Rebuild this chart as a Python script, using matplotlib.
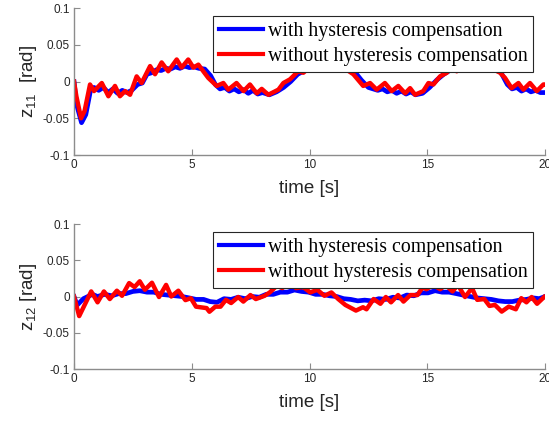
import matplotlib
matplotlib.use("Agg")
import matplotlib.pyplot as plt

plt.rcParams['font.family'] = ['Liberation Sans', 'DejaVu Sans']
plt.rcParams['mathtext.fontset'] = 'custom'
plt.rcParams['mathtext.rm'] = 'Liberation Sans'
plt.rcParams['mathtext.it'] = 'Liberation Sans'

# ---- data: z11 (top) ----
t11_with = [0, 0.1, 0.32, 0.5, 0.7, 0.85, 1.05, 1.25, 1.45, 1.65, 1.85, 2.05, 2.25, 2.45, 2.7, 2.9,
            3.1, 3.3, 3.5, 3.7, 3.9, 4.1, 4.3, 4.5, 4.7, 4.9, 5.1, 5.3, 5.55, 5.8, 6.0, 6.2, 6.4,
            6.6, 6.8, 7.0, 7.2, 7.4, 7.6, 7.8, 8.0, 8.3, 8.6, 8.9, 9.2, 9.5, 9.8, 10.1, 10.4, 10.7,
            11.0, 11.3, 11.6, 11.9, 12.2, 12.5, 12.7, 12.9, 13.1, 13.3, 13.5, 13.7, 13.9, 14.1,
            14.3, 14.5, 14.8, 15.1, 15.4, 15.7, 16.0, 16.3, 16.6, 16.9, 17.2, 17.5, 17.8, 18.1,
            18.4, 18.6, 18.8, 19.0, 19.2, 19.4, 19.6, 19.8, 20.0]
z11_with = [0, -0.03, -0.056, -0.045, -0.012, -0.008, -0.012, -0.008, -0.015, -0.010, -0.016,
            -0.012, -0.015, -0.012, -0.004, -0.002, 0.010, 0.012, 0.016, 0.015, 0.018, 0.017,
            0.020, 0.018, 0.021, 0.019, 0.020, 0.018, 0.017, 0.008, -0.004, -0.010, -0.008,
            -0.013, -0.010, -0.014, -0.011, -0.016, -0.012, -0.017, -0.015, -0.018, -0.014,
            -0.008, 0.000, 0.010, 0.015, 0.018, 0.019, 0.018, 0.020, 0.019, 0.018, 0.014, 0.002,
            -0.008, -0.010, -0.012, -0.010, -0.014, -0.012, -0.016, -0.013, -0.017, -0.014,
            -0.018, -0.016, -0.008, 0.002, 0.010, 0.016, 0.018, 0.019, 0.020, 0.019, 0.020,
            0.019, 0.014, -0.004, -0.010, -0.008, -0.013, -0.010, -0.014, -0.012, -0.015, -0.015]

t11_without = [0, 0.1, 0.3, 0.45, 0.68, 0.85, 1.18, 1.46, 1.74, 1.95, 2.17, 2.38, 2.66, 2.87, 3.23,
               3.44, 3.72, 4.0, 4.36, 4.57, 4.85, 5.07, 5.28, 5.7, 6.06, 6.34, 6.55, 6.9, 7.2, 7.47,
               7.76, 7.97, 8.25, 8.68, 8.89, 9.17, 9.52, 9.74, 9.95, 10.2, 10.45, 10.73, 11.0,
               11.44, 11.86, 12.28, 12.57, 12.85, 13.2, 13.49, 13.77, 14.06, 14.27, 14.48, 14.83,
               15.05, 15.26, 15.54, 15.83, 16.04, 16.25, 16.53, 16.82, 17.24, 17.66, 18.09, 18.3,
               18.58, 18.87, 19.08, 19.36, 19.65, 19.93, 20.0]
z11_without = [0, -0.02, -0.050, -0.040, -0.004, -0.013, -0.002, -0.020, -0.006, -0.020, -0.013,
               -0.018, 0.007, -0.002, 0.021, 0.010, 0.026, 0.014, 0.030, 0.019, 0.030, 0.019,
               0.023, 0.005, -0.006, -0.002, -0.011, -0.002, -0.013, -0.004, -0.016, -0.010,
               -0.018, -0.011, -0.002, 0.003, 0.014, 0.012, 0.018, 0.016, 0.019, 0.016, 0.021,
               0.019, 0.010, -0.006, -0.002, -0.011, -0.002, -0.013, -0.006, -0.016, -0.009,
               -0.018, -0.013, -0.002, -0.004, 0.007, 0.012, 0.021, 0.014, 0.021, 0.016, 0.021,
               0.019, 0.012, 0.005, -0.009, -0.002, -0.011, -0.002, -0.013, -0.004, -0.004]

# ---- data: z12 (bottom) ----
t12_with = [0, 0.13, 0.4, 0.78, 1.0, 1.3, 1.6, 1.9, 2.2, 2.5, 2.79, 3.1, 3.39, 3.7, 3.99, 4.3,
            4.58, 4.9, 5.18, 5.5, 5.78, 6.07, 6.37, 6.67, 6.97, 7.27, 7.57, 7.87, 8.16, 8.46,
            8.76, 9.06, 9.36, 9.66, 9.96, 10.26, 10.55, 10.85, 11.15, 11.45, 11.75, 12.05, 12.34,
            12.64, 12.94, 13.24, 13.54, 13.84, 14.13, 14.43, 14.73, 15.03, 15.33, 15.63, 15.93,
            16.23, 16.52, 16.82, 17.12, 17.42, 17.72, 18.02, 18.31, 18.61, 18.91, 19.21, 19.51,
            19.75, 20.0]
z12_with = [0, -0.012, -0.003, 0.003, 0.0, 0.003, 0.001, 0.004, 0.004, 0.007, 0.008, 0.006, 0.006,
            0.003, 0.002, 0.001, 0.0, -0.002, -0.004, -0.004, -0.007, -0.008, -0.003, -0.004,
            -0.001, -0.003, 0.0, -0.001, 0.003, 0.003, 0.006, 0.006, 0.009, 0.007, 0.006, 0.003,
            0.003, 0.001, 0.0, -0.003, -0.004, -0.006, -0.005, -0.006, -0.003, -0.004, -0.001,
            -0.002, 0.002, 0.001, 0.005, 0.005, 0.008, 0.006, 0.006, 0.004, 0.002, 0.0, -0.002,
            -0.003, -0.004, -0.006, -0.007, -0.007, -0.005, -0.004, -0.002, -0.003, 0.0]

t12_without = [0, 0.22, 0.73, 1.0, 1.27, 1.52, 1.82, 2.04, 2.34, 2.57, 2.79, 3.01, 3.31, 3.61, 3.91,
               4.13, 4.43, 4.73, 4.96, 5.18, 5.63, 5.75, 6.0, 6.22, 6.45, 6.67, 6.97, 7.19, 7.49,
               7.72, 8.09, 8.31, 8.61, 8.84, 9.13, 9.43, 9.73, 10.03, 10.33, 10.63, 10.93, 11.22,
               11.52, 11.97, 12.27, 12.42, 12.72, 13.01, 13.24, 13.46, 13.76, 13.99, 14.28, 14.58,
               14.81, 14.96, 15.25, 15.55, 15.78, 16.07, 16.3, 16.6, 16.9, 17.12, 17.42, 17.64,
               17.87, 18.16, 18.46, 18.76, 18.99, 19.21, 19.43, 19.66, 19.96]
z12_without = [0, -0.027, 0.007, -0.008, 0.007, -0.0035, 0.008, 0.001, 0.0185, 0.013, 0.021, 0.0093,
               0.019, -0.0007, 0.016, 0.0, 0.008, -0.005, -0.0023, -0.014, -0.016, -0.021, -0.014,
               -0.014, -0.0046, -0.009, -0.0007, -0.007, 0.002, -0.0035, 0.001, 0.0056, 0.0148,
               0.0116, 0.0185, 0.0116, 0.013, 0.0056, 0.0093, 0.001, 0.0056, -0.0035, -0.0116,
               -0.0194, -0.0148, -0.0176, -0.0035, -0.010, -0.0007, -0.008, 0.002, -0.007, 0.002,
               0.002, 0.013, 0.010, 0.016, 0.010, 0.016, 0.007, 0.016, -0.0007, 0.0116, -0.0046,
               -0.0035, -0.013, -0.0116, -0.0208, -0.0139, -0.0176, -0.0023, -0.008, -0.0007,
               -0.010, -0.0007]

labels = ['with hysteresis compensation', 'without hysteresis compensation']
ylabels = [r'$\mathrm{z}_{11}$  [rad]', r'$\mathrm{z}_{12}$ [rad]']
xlabel = 'time [s]'
yticks = [-0.1, -0.05, 0, 0.05, 0.1]
yticklabels = ['-0.1', '-0.05', '0', '0.05', '0.1']
xticks = [0, 5, 10, 15, 20]

fig = plt.figure(figsize=(5.49, 4.21), dpi=100)
ax1 = fig.add_axes([0.1348, 0.6318, 0.858, 0.349])
ax2 = fig.add_axes([0.1348, 0.1235, 0.858, 0.3444])

series = [(t11_with, z11_with, t11_without, z11_without),
          (t12_with, z12_with, t12_without, z12_without)]

for ax, (tw, zw, to, zo), yl in zip([ax1, ax2], series, ylabels):
    ax.plot(tw, zw, color='#0000ff', lw=3.4, label=labels[0], solid_joinstyle='round')
    ax.plot(to, zo, color='#ff0000', lw=3.2, label=labels[1], solid_joinstyle='round')
    ax.set_xlim(0, 20)
    ax.set_ylim(-0.1, 0.1)
    ax.set_xticks(xticks)
    ax.set_yticks(yticks)
    ax.set_yticklabels(yticklabels)
    for s in ['top', 'right']:
        ax.spines[s].set_visible(False)
    for s in ['left', 'bottom']:
        ax.spines[s].set_color('#8c8c8c')
        ax.spines[s].set_linewidth(1.0)
    ax.tick_params(direction='in', length=4, width=0.8, color='#8c8c8c',
                   labelsize=8.5, labelcolor='#262626', pad=3)
    ax.set_xlabel(xlabel, fontsize=13.5, color='#262626', labelpad=6)
    ax.set_ylabel(yl, fontsize=13.5, color='#262626', labelpad=3)
    leg = ax.legend(loc='upper right', bbox_to_anchor=(0.975, 0.945),
                    prop={'family': 'Liberation Serif', 'size': 14.3},
                    frameon=True, fancybox=False, framealpha=1, edgecolor='#262626',
                    handlelength=2.2, handletextpad=0.25, borderpad=0.3,
                    labelspacing=0.3, borderaxespad=0)
    leg.get_frame().set_linewidth(0.8)
    for line in leg.get_lines():
        line.set_linewidth(3.0)

fig.savefig('out.png', dpi=100)
